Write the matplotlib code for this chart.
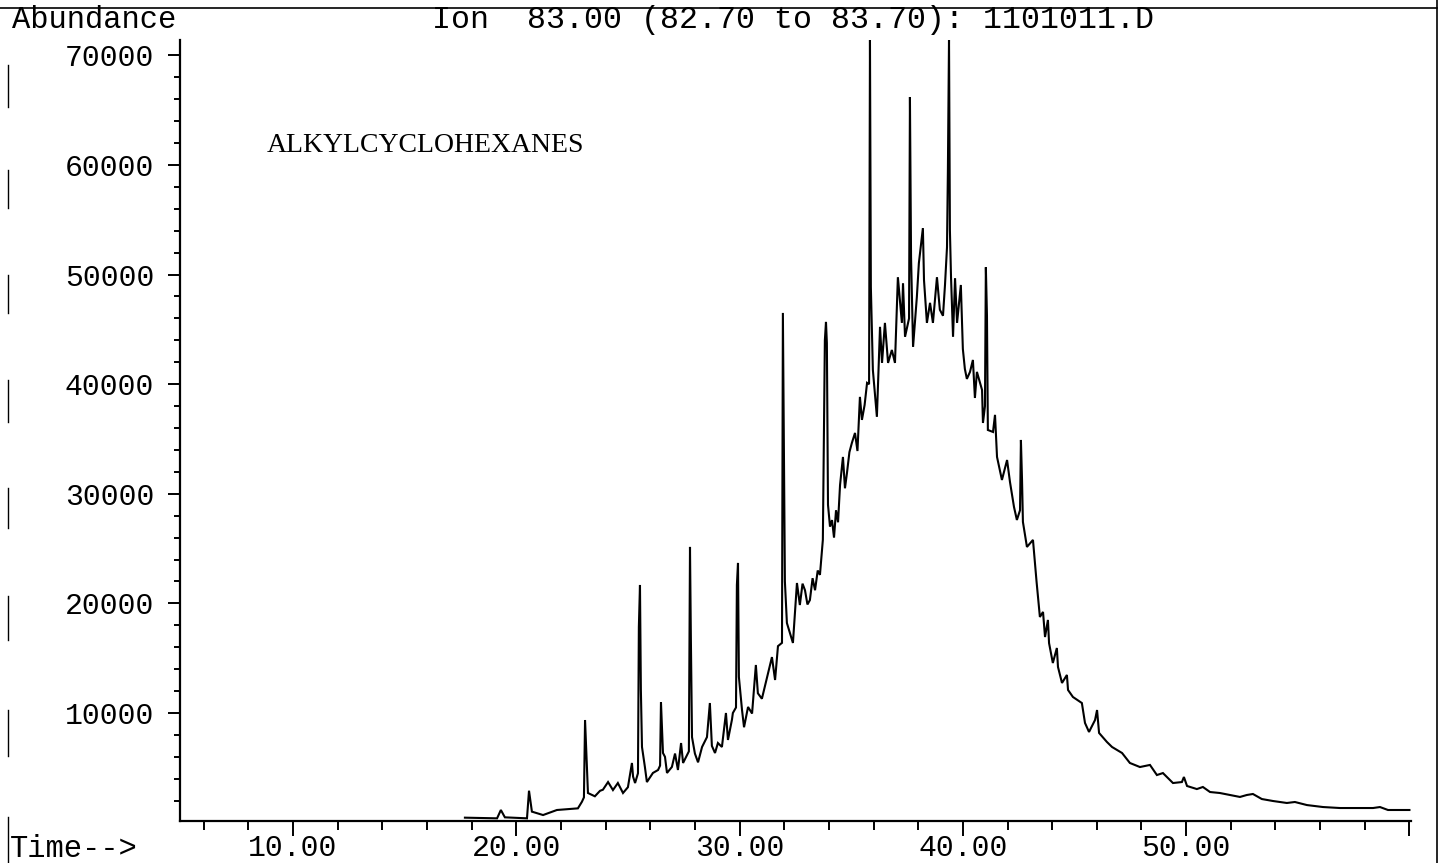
#!/usr/bin/env python3
# Ion chromatogram m/z 83 - alkylcyclohexanes
import matplotlib
matplotlib.use("Agg")
import matplotlib.pyplot as plt
from matplotlib.lines import Line2D
from matplotlib.ticker import FixedLocator

MONO = "Liberation Mono"
SERIF = "Liberation Serif"

# retention time (min) / abundance, in pieces
early_t = [17.70, 19.14, 19.31, 19.49, 20.48, 20.57, 20.70, 21.20, 21.82, 22.76,
           22.94, 23.03, 23.08, 23.12, 23.21, 23.52, 23.75, 23.88, 24.11, 24.33,
           24.55, 24.78, 25.00, 25.18, 25.23, 25.32, 25.45]
early_v = [450, 390, 1150, 480, 390, 2910, 1000, 690, 1150, 1300,
           1900, 2300, 9360, 7260, 2700, 2400, 2900, 3000, 3700, 2970,
           3610, 2700, 3230, 5440, 4200, 3610, 4500]

rise_t = [25.49, 25.54, 25.58, 25.63, 25.76, 25.85, 26.12, 26.35, 26.44, 26.48,
          26.57, 26.66, 26.75, 26.97, 27.11, 27.24, 27.38, 27.47, 27.73, 27.78,
          27.82, 27.87, 28.00, 28.14, 28.32, 28.54, 28.67, 28.76, 28.90, 29.03,
          29.21, 29.39, 29.48, 29.66, 29.70, 29.84, 29.88, 29.93, 29.97, 30.11,
          30.20, 30.38, 30.56, 30.73, 30.82, 31.00, 31.23, 31.45, 31.59, 31.72,
          31.90]
rise_v = [17850, 21680, 12100, 6900, 5080, 3700, 4530, 4800, 5200, 11000,
          6350, 6000, 4530, 5080, 6300, 4800, 7260, 5440, 6500, 25150,
          16660, 7800, 6300, 5500, 6900, 7800, 10910, 7000, 6350, 7260,
          6900, 10000, 7540, 9400, 10000, 10500, 21680, 23690, 13290, 10270,
          8700, 10550, 9950, 14380, 11800, 11300, 13260, 15100, 13010, 16100,
          16400]

mid_t = [31.94, 32.03, 32.12, 32.39, 32.57, 32.70, 32.82, 32.93, 33.04, 33.15,
         33.27, 33.38, 33.50, 33.60, 33.73, 33.82, 33.87, 33.91, 33.96, 34.05,
         34.14, 34.23, 34.32, 34.41, 34.50, 34.63, 34.72, 34.81, 34.92, 35.03,
         35.17, 35.28, 35.39, 35.48, 35.60, 35.71, 35.80]
mid_v = [46500, 22000, 18210, 16390, 21860, 19850, 21800, 21200, 19900, 20300,
         22300, 21200, 23000, 22600, 25800, 44000, 45680, 43760, 29000, 27000,
         27600, 26000, 28500, 27400, 30800, 33360, 30500, 31900, 33800, 34640,
         35550, 33900, 38840, 36740, 38100, 40120, 40000]

top_t = [35.84, 35.88, 35.97, 36.15, 36.29, 36.38, 36.51, 36.65, 36.82, 36.96,
         37.09, 37.27, 37.32, 37.41, 37.59, 37.63, 37.68, 37.77, 37.94, 38.03,
         38.21, 38.26, 38.39, 38.53, 38.66, 38.84, 38.97, 39.11, 39.20, 39.29,
         39.33, 39.38, 39.42, 39.47, 39.56, 39.65, 39.74, 39.91, 40.00, 40.09,
         40.18, 40.32, 40.45, 40.54, 40.63, 40.86, 40.90, 40.99, 41.03, 41.08]
top_v = [71500, 48850, 41300, 37020, 45230, 41940, 45590, 41940, 43120, 41940,
         49760, 45590, 49210, 44320, 46000, 66200, 51590, 43400, 47960, 51040,
         54240, 49490, 45590, 47420, 45590, 49760, 46790, 46240, 49050, 52500,
         59540, 71500, 54070, 49760, 44320, 49670, 45590, 49050, 43210, 41390,
         40480, 41120, 42210, 38740, 41120, 39470, 36460, 38000, 50670, 46240]

tail_t = [41.12, 41.35, 41.44, 41.53, 41.75, 41.98, 42.11, 42.29, 42.42, 42.56,
          42.60, 42.65, 42.69, 42.87, 43.14, 43.30, 43.45, 43.59, 43.68, 43.81,
          43.86, 44.03, 44.21, 44.26, 44.44, 44.66, 44.71, 44.93, 45.33, 45.47,
          45.65, 45.92, 46.01, 46.10, 46.45, 46.68, 47.13, 47.48, 47.93, 48.38,
          48.69, 48.96, 49.41, 49.81, 49.90, 50.04, 50.48, 50.75, 51.07, 51.51,
          51.96, 52.41, 52.72, 52.99, 53.39, 53.89, 54.51, 54.87, 55.41, 56.13,
          56.89, 57.65, 58.37, 58.68, 59.04, 60.00]
tail_v = [35820, 35640, 37200, 33360, 31260, 33080, 31080, 28800, 27610, 28500,
          34910, 31260, 27430, 25150, 25790, 22000, 18760, 19220, 16930, 18490,
          16380, 14560, 15930, 14200, 12740, 13470, 12100, 11460, 10910, 9090,
          8270, 9360, 10270, 8180, 7360, 6900, 6350, 5440, 5070, 5260,
          4340, 4520, 3610, 3700, 4160, 3340, 3060, 3250, 2790, 2700,
          2520, 2340, 2520, 2610, 2150, 1970, 1790, 1880, 1600, 1420,
          1330, 1330, 1330, 1420, 1150, 1150]

time_min = early_t + rise_t + mid_t + top_t + tail_t
abundance = early_v + rise_v + mid_v + top_v + tail_v

x_major = [10, 20, 30, 40, 50, 60]
x_labels = ["10.00", "20.00", "30.00", "40.00", "50.00", ""]
x_minor = [6, 8, 12, 14, 16, 18, 22, 24, 26, 28, 32, 34, 36, 38,
           42, 44, 46, 48, 52, 54, 56, 58]
y_major = [10000, 20000, 30000, 40000, 50000, 60000, 70000]
y_minor = [v for v in range(2000, 70000, 2000) if v % 10000]

W, H = 1441, 863
fig = plt.figure(figsize=(W / 100, H / 100), dpi=100)
ax = fig.add_axes([180 / W, 1 - 821 / H, (1411 - 180) / W, (821 - 40) / H])

ax.plot(time_min, abundance, color="black", linewidth=1.5, solid_joinstyle="miter")
ax.set_xlim(4.94, 60.07)
ax.set_ylim(146, 71400)

for side in ("top", "right"):
    ax.spines[side].set_visible(False)
for side in ("left", "bottom"):
    ax.spines[side].set_linewidth(1.6)

ax.xaxis.set_major_locator(FixedLocator(x_major))
ax.xaxis.set_minor_locator(FixedLocator(x_minor))
ax.set_xticklabels(x_labels, fontfamily=MONO, fontsize=21.5)
ax.yaxis.set_major_locator(FixedLocator(y_major))
ax.yaxis.set_minor_locator(FixedLocator(y_minor))
ax.set_yticklabels([str(v) for v in y_major], fontfamily=MONO, fontsize=21.5)

ax.tick_params(axis="x", which="major", direction="out", length=11, width=1.4, pad=-1.5)
ax.tick_params(axis="x", which="minor", direction="out", length=6.5, width=1.4)
ax.tick_params(axis="y", which="major", direction="out", length=8.6, width=1.4, pad=10)
ax.tick_params(axis="y", which="minor", direction="out", length=4.3, width=1.4)

ax.text(8.84, 61185, "ALKYLCYCLOHEXANES", fontfamily=SERIF, fontsize=20,
        va="baseline", ha="left")

# header / footer text of the printout
fig.text(12 / W, 1 - 28 / H, "Abundance", fontfamily=MONO, fontsize=22, va="baseline")
fig.text(432 / W, 1 - 28 / H, "Ion  83.00 (82.70 to 83.70): 1101011.D",
         fontfamily=MONO, fontsize=22.8, va="baseline")
fig.text(10 / W, 1 - 857 / H, "Time-->", fontfamily=MONO, fontsize=22, va="baseline")

# page frame from the scan
fig.add_artist(Line2D([0, 1437 / W], [1 - 8 / H, 1 - 8 / H], color="black", linewidth=1.2))
fig.add_artist(Line2D([1437 / W, 1437 / W], [0, 1], color="black", linewidth=1.2))
for y0, y1 in [(65, 107), (170, 208), (275, 313), (380, 422), (488, 528),
               (596, 640), (710, 756), (817, 863)]:
    fig.add_artist(Line2D([8 / W, 8 / W], [1 - y0 / H, 1 - y1 / H], color="black", linewidth=1.0))

fig.savefig("out.png", dpi=100, facecolor="white")
